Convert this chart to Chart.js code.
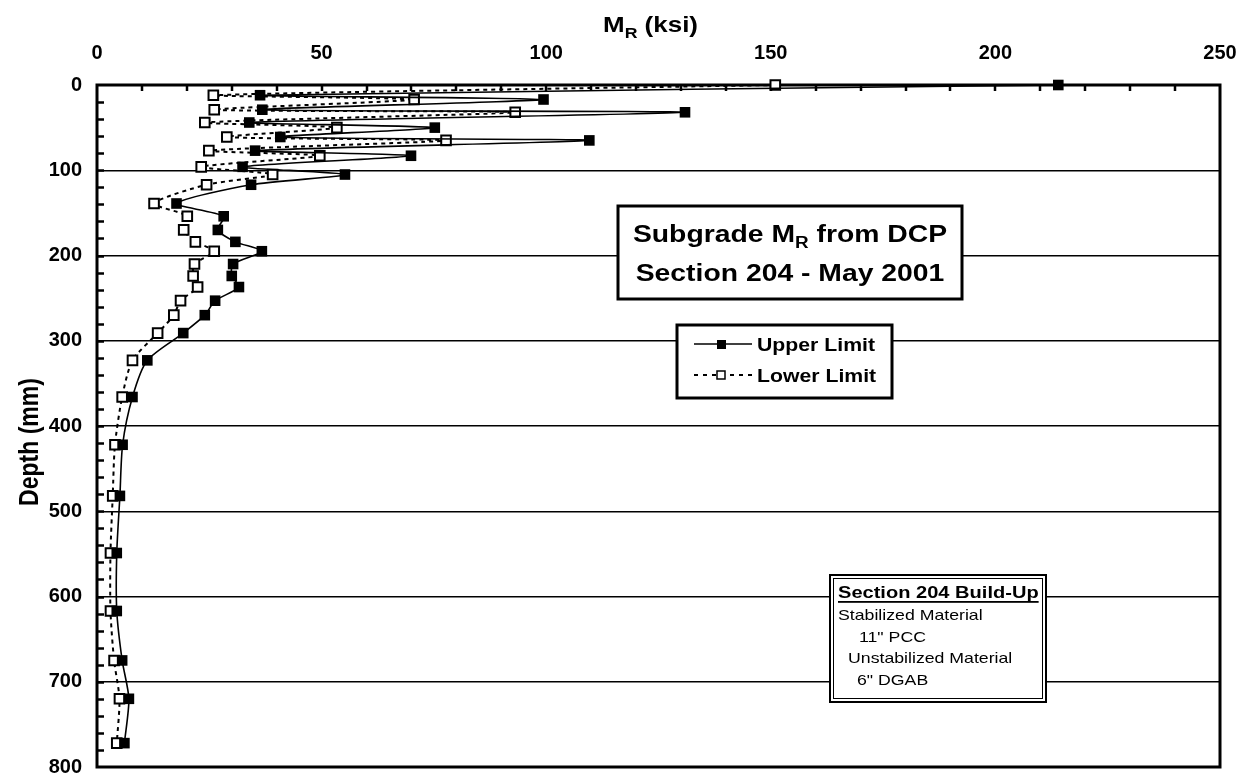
<!DOCTYPE html>
<html><head><meta charset="utf-8">
<script src="https://cdn.jsdelivr.net/npm/chart.js@4.4.1/dist/chart.umd.min.js"></script>
<style>html,body{margin:0;padding:0;background:#fff;}#wrap{width:1240px;height:780px;}</style>
</head><body><div id="wrap"><canvas id="c" width="1240" height="780"></canvas></div>
<script>
// ---- data ----
const depthMm = [0, 12, 17, 29, 32, 44, 50, 61, 65, 77, 83, 96, 105, 117, 139, 154, 170, 184, 195, 210, 224, 237, 253, 270, 291, 323, 366, 422, 482, 549, 617, 675, 720, 772];
const upperLimit = [214, 36.3, 99.4, 36.8, 130.9, 33.9, 75.2, 40.8, 109.6, 35.2, 69.9, 32.4, 55.2, 34.3, 17.7, 28.2, 26.9, 30.8, 36.7, 30.3, 30.0, 31.6, 26.3, 24.0, 19.2, 11.2, 7.9, 5.7, 5.1, 4.4, 4.4, 5.6, 7.1, 6.1];
const lowerLimit = [151, 25.9, 70.6, 26.1, 93.1, 24.0, 53.4, 28.9, 77.7, 24.9, 49.6, 23.2, 39.1, 24.4, 12.7, 20.1, 19.3, 21.9, 26.1, 21.7, 21.4, 22.4, 18.6, 17.1, 13.5, 7.9, 5.6, 4.0, 3.5, 3.0, 3.0, 3.8, 5.0, 4.4];
const seriesNames = ['Upper Limit', 'Lower Limit'];
const xRange = [0, 250], xStep = 50, xMinorStep = 10;
const yRange = [0, 800], yStep = 100, yMinorStep = 20;
const xTitleMain = 'M', xTitleSub = 'R', xTitleTail = ' (ksi)';
const yTitle = 'Depth (mm)';
const boxTitle1 = ['Subgrade M', 'R', ' from DCP'];
const boxTitle2 = 'Section 204 - May 2001';
const buildUpLines = ['Section 204 Build-Up', 'Stabilized Material', '11" PCC', 'Unstabilized Material', '6" DGAB'];

const FF = '"Liberation Sans", Arial, Helvetica, sans-serif';
const SX = 1.18; // horizontal text stretch seen in the reference

function stretchedText(ctx, txt, x, y, font, align, sx) {
  ctx.save();
  ctx.font = font;
  const w = ctx.measureText(txt).width * sx;
  let x0 = x;
  if (align === 'center') x0 = x - w / 2;
  else if (align === 'right') x0 = x - w;
  ctx.translate(x0, y);
  ctx.scale(sx, 1);
  ctx.textAlign = 'left';
  ctx.textBaseline = 'alphabetic';
  ctx.fillText(txt, 0, 0);
  ctx.restore();
  return w;
}
function subText(ctx, parts, cx, baseY, size, subSize, sx) {
  ctx.save();
  ctx.font = 'bold ' + size + 'px ' + FF;
  const w0 = ctx.measureText(parts[0]).width * sx;
  const w2 = ctx.measureText(parts[2]).width * sx;
  ctx.font = 'bold ' + subSize + 'px ' + FF;
  const w1 = ctx.measureText(parts[1]).width * sx;
  ctx.restore();
  let x = cx - (w0 + w1 + w2) / 2;
  stretchedText(ctx, parts[0], x, baseY, 'bold ' + size + 'px ' + FF, 'left', sx); x += w0;
  stretchedText(ctx, parts[1], x, baseY + size * 0.25, 'bold ' + subSize + 'px ' + FF, 'left', sx); x += w1;
  stretchedText(ctx, parts[2], x, baseY, 'bold ' + size + 'px ' + FF, 'left', sx);
}

const decor = {
  id: 'decor',
  beforeDatasetsDraw(chart) {
    const ctx = chart.ctx, a = chart.chartArea, xs = chart.scales.x, ys = chart.scales.y;
    ctx.save();
    ctx.strokeStyle = '#000';
    ctx.lineWidth = 2.5;
    for (let v = yRange[0] + yMinorStep; v < yRange[1]; v += yMinorStep) {
      const p = Math.round(ys.getPixelForValue(v)) + 0.5;
      ctx.beginPath(); ctx.moveTo(a.left, p); ctx.lineTo(a.left + 7, p); ctx.stroke();
    }
    for (let v = xRange[0] + xMinorStep; v < xRange[1]; v += xMinorStep) {
      const p = Math.round(xs.getPixelForValue(v));
      ctx.beginPath(); ctx.moveTo(p, a.top); ctx.lineTo(p, a.top + 6); ctx.stroke();
    }
    ctx.lineWidth = 3;
    ctx.strokeRect(a.left, a.top, a.right - a.left, a.bottom - a.top);
    ctx.restore();
  },
  afterDatasetsDraw(chart) {
    const ctx = chart.ctx, a = chart.chartArea;
    ctx.save();
    ctx.fillStyle = '#000';
    // x axis title
    subText(ctx, [xTitleMain, xTitleSub, xTitleTail], (a.left + a.right) / 2 - 8, 32, 22, 15, SX);
    // y axis title (rotated)
    ctx.save();
    ctx.translate(38, 442);
    ctx.rotate(-Math.PI / 2);
    ctx.scale(1, SX);
    ctx.font = 'bold 23px ' + FF;
    ctx.textAlign = 'center';
    ctx.textBaseline = 'alphabetic';
    ctx.fillText(yTitle, 0, 0);
    ctx.restore();

    // main title box
    ctx.fillStyle = '#fff';
    ctx.fillRect(618, 206, 344, 93);
    ctx.lineWidth = 3; ctx.strokeStyle = '#000';
    ctx.strokeRect(618, 206, 344, 93);
    ctx.fillStyle = '#000';
    subText(ctx, boxTitle1, 790, 242, 24, 16, SX);
    stretchedText(ctx, boxTitle2, 790, 281, 'bold 24px ' + FF, 'center', SX);

    // legend box
    ctx.fillStyle = '#fff';
    ctx.fillRect(677, 325, 215, 73);
    ctx.lineWidth = 3; ctx.strokeRect(677, 325, 215, 73);
    ctx.fillStyle = '#000';
    ctx.lineWidth = 1.5;
    ctx.beginPath(); ctx.moveTo(694, 344); ctx.lineTo(752, 344); ctx.stroke();
    ctx.fillRect(717, 340, 9, 9);
    ctx.lineWidth = 2; ctx.setLineDash([4, 5]);
    ctx.beginPath(); ctx.moveTo(694, 375); ctx.lineTo(752, 375); ctx.stroke();
    ctx.setLineDash([]);
    ctx.fillStyle = '#fff'; ctx.fillRect(717, 371, 8, 8);
    ctx.lineWidth = 1.5; ctx.strokeRect(717, 371, 8, 8);
    ctx.fillStyle = '#000';
    stretchedText(ctx, seriesNames[0], 757, 350.5, 'bold 18px ' + FF, 'left', SX);
    stretchedText(ctx, seriesNames[1], 757, 381.5, 'bold 18px ' + FF, 'left', SX);

    // build-up box
    ctx.fillStyle = '#fff';
    ctx.fillRect(830, 575, 216, 127);
    ctx.strokeStyle = '#000';
    ctx.lineWidth = 2; ctx.strokeRect(830, 575, 216, 127);
    ctx.lineWidth = 1; ctx.strokeRect(833.5, 578.5, 209, 120);
    ctx.fillStyle = '#000';
    const w = stretchedText(ctx, buildUpLines[0], 838, 598, 'bold 17px ' + FF, 'left', SX);
    ctx.fillRect(838, 601, w, 1.8);
    stretchedText(ctx, buildUpLines[1], 838, 620, '15px ' + FF, 'left', SX);
    stretchedText(ctx, buildUpLines[2], 859, 642, '15px ' + FF, 'left', SX);
    stretchedText(ctx, buildUpLines[3], 848, 663, '15px ' + FF, 'left', SX);
    stretchedText(ctx, buildUpLines[4], 857, 685, '15px ' + FF, 'left', SX);
    ctx.restore();
  }
};

function zeroPad(s) { s.paddingLeft = 0; s.paddingRight = 0; s.paddingTop = 0; s.paddingBottom = 0; }

const tickFont = { family: FF, size: 20, weight: 'bold' };
new Chart(document.getElementById('c'), {
  type: 'scatter',
  data: {
    datasets: [
      {
        label: seriesNames[0],
        data: depthMm.map((d, i) => ({ x: upperLimit[i], y: d })),
        showLine: true,
        borderColor: '#000',
        borderWidth: 1.6,
        backgroundColor: '#000',
        pointStyle: 'rect',
        pointRadius: 7.5,
        pointBorderWidth: 0,
        pointBackgroundColor: '#000',
        tension: 0.25,
        clip: false
      },
      {
        label: seriesNames[1],
        data: depthMm.map((d, i) => ({ x: lowerLimit[i], y: d })),
        showLine: true,
        borderColor: '#000',
        borderWidth: 2,
        borderDash: [4, 4],
        backgroundColor: '#fff',
        pointStyle: 'rect',
        pointRadius: 6.8,
        pointBorderWidth: 2,
        pointBorderColor: '#000',
        pointBackgroundColor: '#fff',
        tension: 0.25,
        clip: false
      }
    ]
  },
  options: {
    responsive: false,
    animation: false,
    devicePixelRatio: 1,
    layout: { autoPadding: false, padding: { left: 0, top: 0, right: 20, bottom: 13 } },
    plugins: { legend: { display: false }, tooltip: { enabled: false }, title: { display: false } },
    scales: {
      x: {
        type: 'linear', position: 'top', min: xRange[0], max: xRange[1],
        ticks: { stepSize: xStep, font: tickFont, color: '#000', padding: 20, maxRotation: 0 },
        grid: { display: false, drawTicks: false },
        border: { display: false },
        afterFit: s => { s.height = 85; zeroPad(s); }
      },
      y: {
        type: 'linear', reverse: true, min: yRange[0], max: yRange[1],
        ticks: { stepSize: yStep, font: tickFont, color: '#000', padding: 15 },
        grid: {
          drawTicks: false,
          lineWidth: 1.5,
          color: c => (c.tick && (c.tick.value === yRange[0] || c.tick.value === yRange[1])) ? 'rgba(0,0,0,0)' : '#000'
        },
        border: { display: false },
        afterFit: s => { s.width = 97; zeroPad(s); }
      }
    }
  },
  plugins: [decor]
});
</script></body></html>
